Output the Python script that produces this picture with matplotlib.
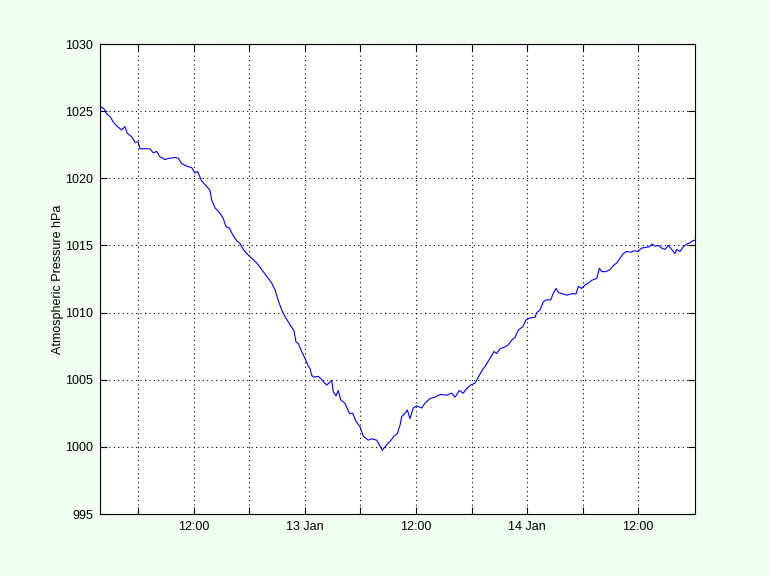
import matplotlib.pyplot as plt

# Time in hours since 12 Jan 00:00, pressure in hPa
hours = [1.84, 2.02, 2.30, 2.56, 2.92, 3.28, 3.64, 4.18, 4.54, 4.79, 5.26, 5.62, 5.98,
         6.16, 6.70, 7.24, 7.60, 7.97, 8.32, 8.86, 9.41, 9.95, 10.30, 10.67, 11.21,
         11.75, 12.11, 12.40, 12.83, 13.37, 13.73, 13.91, 14.27, 14.81, 15.17, 15.46,
         15.82, 16.18, 16.62, 16.97, 17.33, 17.70, 18.24, 18.78, 19.32, 19.86, 20.40,
         20.76, 21.11, 21.48, 21.84, 22.38, 22.81, 23.03, 23.28, 23.64, 24.00, 24.36,
         24.54, 24.72, 24.90, 25.44, 25.81, 26.35, 26.89, 27.06, 27.35, 27.60, 27.86,
         28.32, 28.79, 29.16, 29.51, 29.95, 30.30, 30.84, 31.21, 31.75, 32.11, 32.36,
         32.76, 33.19, 33.62, 33.98, 34.27, 34.45, 34.81, 35.06, 35.35, 35.71, 36.08,
         36.62, 36.97, 37.51, 38.05, 38.59, 39.32, 39.86, 40.22, 40.68, 41.11, 41.48,
         41.91, 42.38, 42.74, 43.10, 43.57, 44.00, 44.43, 44.72, 45.08, 45.62, 45.98,
         46.35, 46.70, 47.06, 47.54, 47.89, 48.32, 48.86, 49.05, 49.41, 49.76, 50.13,
         50.56, 50.85, 51.14, 51.39, 51.86, 52.29, 52.83, 53.30, 53.55, 53.91, 54.27,
         54.63, 54.99, 55.54, 55.82, 56.08, 56.54, 56.97, 57.33, 57.70, 58.05, 58.41,
         58.78, 59.21, 59.57, 59.93, 60.40, 60.76, 61.23, 61.48, 61.84, 62.19, 62.56,
         62.92, 63.27, 63.64, 63.99, 64.18, 64.54, 64.90, 65.26, 65.62, 65.91, 66.16]
pressure = [1025.2, 1025.3, 1025.15, 1024.8, 1024.6, 1024.2, 1023.9, 1023.6, 1023.85,
            1023.35, 1023.1, 1022.7, 1022.7, 1022.2, 1022.2, 1022.2, 1021.9, 1022.0,
            1021.6, 1021.4, 1021.5, 1021.55, 1021.5, 1021.1, 1020.9, 1020.8, 1020.4,
            1020.5, 1019.8, 1019.4, 1019.1, 1018.4, 1017.8, 1017.4, 1017.0, 1016.4,
            1016.3, 1015.8, 1015.35, 1015.15, 1014.7, 1014.4, 1014.05, 1013.7, 1013.2,
            1012.7, 1012.2, 1011.7, 1010.9, 1010.2, 1009.7, 1009.1, 1008.65, 1007.8,
            1007.7, 1007.1, 1006.6, 1006.0, 1005.85, 1005.35, 1005.2, 1005.25, 1005.0,
            1004.6, 1004.95, 1004.1, 1003.8, 1004.2, 1003.5, 1003.25, 1002.5, 1002.5,
            1001.9, 1001.5, 1000.8, 1000.5, 1000.6, 1000.5, 1000.05, 999.75, 1000.1,
            1000.4, 1000.8, 1001.0, 1001.6, 1002.25, 1002.5, 1002.75, 1002.1, 1002.9,
            1003.05, 1002.9, 1003.25, 1003.6, 1003.7, 1003.9, 1003.85, 1004.0, 1003.7,
            1004.2, 1004.0, 1004.35, 1004.6, 1004.75, 1005.2, 1005.65, 1006.1, 1006.6,
            1007.1, 1006.95, 1007.3, 1007.45, 1007.6, 1007.95, 1008.15, 1008.7, 1008.95,
            1009.45, 1009.6, 1009.65, 1010.0, 1010.2, 1010.8, 1010.95, 1010.95, 1011.45,
            1011.8, 1011.5, 1011.4, 1011.3, 1011.4, 1011.4, 1011.95, 1011.8, 1012.05,
            1012.2, 1012.4, 1012.55, 1013.3, 1013.05, 1013.05, 1013.2, 1013.5, 1013.7,
            1014.05, 1014.4, 1014.55, 1014.5, 1014.6, 1014.55, 1014.8, 1014.85, 1014.9,
            1015.1, 1014.95, 1015.0, 1014.8, 1014.7, 1015.0, 1014.7, 1014.4, 1014.7,
            1014.55, 1014.9, 1015.1, 1015.2, 1015.35, 1015.4]

xtick_hours = [6, 12, 18, 24, 30, 36, 42, 48, 54, 60]
xtick_labels = ['', '12:00', '', '13 Jan', '', '12:00', '', '14 Jan', '', '12:00']
yticks = [995, 1000, 1005, 1010, 1015, 1020, 1025, 1030]

plt.rcParams['font.family'] = ['Liberation Sans', 'DejaVu Sans']
plt.rcParams['font.size'] = 9

fig = plt.figure(figsize=(7.69, 5.76), dpi=100, facecolor='#F0FFF0')
ax = fig.add_axes([0.13, 0.1076, 0.7738, 0.816])

ax.plot(hours, pressure, color='#0000FF', linewidth=0.8)

ax.set_xlim(min(hours), max(hours))
ax.set_ylim(995, 1030)
ax.set_xticks(xtick_hours)
ax.set_xticklabels(xtick_labels)
ax.set_yticks(yticks)
ax.set_ylabel('Atmospheric Pressure hPa', labelpad=1)

ax.grid(True, color='black', linestyle=(0, (1, 3)), linewidth=0.8)
ax.tick_params(direction='in', length=5, width=0.8, top=True, right=True, pad=5)
for s in ax.spines.values():
    s.set_linewidth(0.8)

plt.savefig('out.png', dpi=100, facecolor=fig.get_facecolor())
